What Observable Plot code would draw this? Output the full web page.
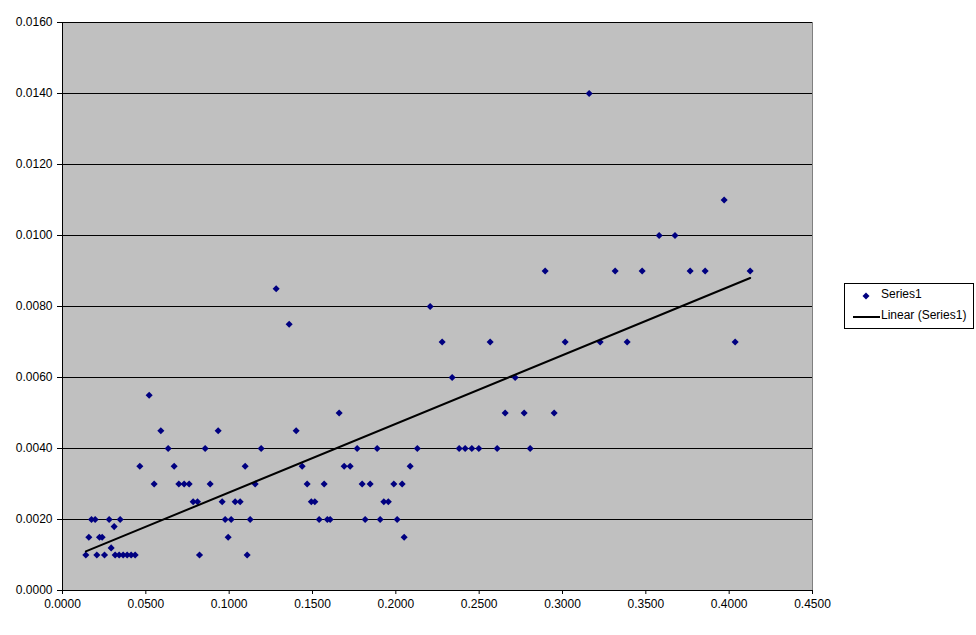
<!DOCTYPE html>
<html>
<head>
<meta charset="utf-8">
<script src="https://cdn.jsdelivr.net/npm/d3@7"></script>
<script src="https://cdn.jsdelivr.net/npm/@observablehq/plot@0.6"></script>
<style>
  html, body { margin: 0; padding: 0; background: #fff; }
  #wrap { position: relative; width: 976px; height: 635px; font-family: Arial, "Liberation Sans", sans-serif; }
  #legend { position: absolute; left: 844px; top: 283px; width: 128px; height: 44px; border: 1px solid #000; background: #fff; font-size: 12px; font-family: Arial, "Liberation Sans", sans-serif; }
  #legend .item { position: absolute; left: 0; white-space: nowrap; }
</style>
</head>
<body>
<div id="wrap"><div id="chart"></div>
<div id="legend">
  <div class="item" style="top:4px;"><svg width="36" height="16" style="vertical-align:middle"><path d="M21,4.5L24.5,8L21,11.5L17.5,8Z" fill="#000080"/></svg><span style="position:relative;left:0px;top:-1px">Series1</span></div>
  <div class="item" style="top:25px;"><svg width="36" height="16" style="vertical-align:middle"><line x1="8" x2="35" y1="8" y2="8" stroke="#000" stroke-width="2"/></svg><span style="position:relative;left:0px;top:-1px">Linear (Series1)</span></div>
</div>
</div>
<script>
// Series1 x values
const xs = [
  0.0140, 0.0206, 0.0252, 0.0316, 0.0340, 0.0364, 0.0388, 0.0412, 0.0436,
  0.0158, 0.0222, 0.0238, 0.0292, 0.0310, 0.0174, 0.0196, 0.0280, 0.0346,
  0.0464, 0.0520, 0.0550, 0.0590, 0.0634, 0.0670, 0.0698, 0.0730, 0.0760,
  0.0784, 0.0810, 0.0822, 0.0856, 0.0886, 0.0934, 0.0958, 0.0976, 0.0994,
  0.1012, 0.1036, 0.1066, 0.1096, 0.1108, 0.1126, 0.1156, 0.1192, 0.1282,
  0.1360, 0.1402, 0.1438, 0.1468, 0.1493, 0.1514, 0.1540, 0.1570, 0.1589,
  0.1606, 0.1660, 0.1690, 0.1726, 0.1768, 0.1798, 0.1816, 0.1846, 0.1888,
  0.1906, 0.1928, 0.1955, 0.1988, 0.2008, 0.2038, 0.2050, 0.2086, 0.2129,
  0.2206, 0.2278, 0.2338, 0.2380, 0.2416, 0.2456, 0.2498, 0.2566, 0.2608,
  0.2656, 0.2716, 0.2770, 0.2806, 0.2896, 0.2950, 0.3016, 0.3160, 0.3226,
  0.3316, 0.3388, 0.3478, 0.3580, 0.3675, 0.3766, 0.3856, 0.3970, 0.4036,
  0.4126
];
// Series1 y values
const ys = [
  0.0010, 0.0010, 0.0010, 0.0010, 0.0010, 0.0010, 0.0010, 0.0010, 0.0010,
  0.0015, 0.0015, 0.0015, 0.0012, 0.0018, 0.0020, 0.0020, 0.0020, 0.0020,
  0.0035, 0.0055, 0.0030, 0.0045, 0.0040, 0.0035, 0.0030, 0.0030, 0.0030,
  0.0025, 0.0025, 0.0010, 0.0040, 0.0030, 0.0045, 0.0025, 0.0020, 0.0015,
  0.0020, 0.0025, 0.0025, 0.0035, 0.0010, 0.0020, 0.0030, 0.0040, 0.0085,
  0.0075, 0.0045, 0.0035, 0.0030, 0.0025, 0.0025, 0.0020, 0.0030, 0.0020,
  0.0020, 0.0050, 0.0035, 0.0035, 0.0040, 0.0030, 0.0020, 0.0030, 0.0040,
  0.0020, 0.0025, 0.0025, 0.0030, 0.0020, 0.0030, 0.0015, 0.0035, 0.0040,
  0.0080, 0.0070, 0.0060, 0.0040, 0.0040, 0.0040, 0.0040, 0.0070, 0.0040,
  0.0050, 0.0060, 0.0050, 0.0040, 0.0090, 0.0050, 0.0070, 0.0140, 0.0070,
  0.0090, 0.0070, 0.0090, 0.0100, 0.0100, 0.0090, 0.0090, 0.0110, 0.0070,
  0.0090
];
const xTicks = [0, 0.05, 0.10, 0.15, 0.20, 0.25, 0.30, 0.35, 0.40, 0.45];
const yTicks = [0, 0.002, 0.004, 0.006, 0.008, 0.010, 0.012, 0.014, 0.016];
const seriesName = "Series1";

const data = xs.map((x, i) => ({x, y: ys[i]}));
const fmt = d3.format(".4f");

const chart = Plot.plot({
  width: 976,
  height: 635,
  marginLeft: 62,
  marginRight: 164,
  marginTop: 22,
  marginBottom: 45,
  style: {background: "#fff", fontFamily: "Arial, 'Liberation Sans', sans-serif", fontSize: "12px", color: "#000"},
  x: {domain: [0, 0.45], label: null},
  y: {domain: [0, 0.016], label: null},
  marks: [
    Plot.frame({fill: "#c0c0c0", stroke: "#808080"}),
    Plot.ruleY(yTicks, {stroke: "#000", strokeWidth: 1}),
    Plot.ruleX([0], {stroke: "#000"}),
    Plot.axisY({ticks: yTicks, tickFormat: fmt, tickSize: 5, tickPadding: 5, label: null, fontSize: 12, stroke: "#000"}),
    Plot.axisX({ticks: xTicks, tickFormat: fmt, tickSize: 4, tickPadding: 5, label: null, fontSize: 12, stroke: "#000"}),
    Plot.dot(data, {x: "x", y: "y", symbol: "diamond2", r: 3.2, fill: "#000080", stroke: "none"}),
    Plot.linearRegressionY(data, {x: "x", y: "y", stroke: "#000", strokeWidth: 2, ci: 0})
  ]
});
document.getElementById("chart").appendChild(chart);
</script>
</body>
</html>
